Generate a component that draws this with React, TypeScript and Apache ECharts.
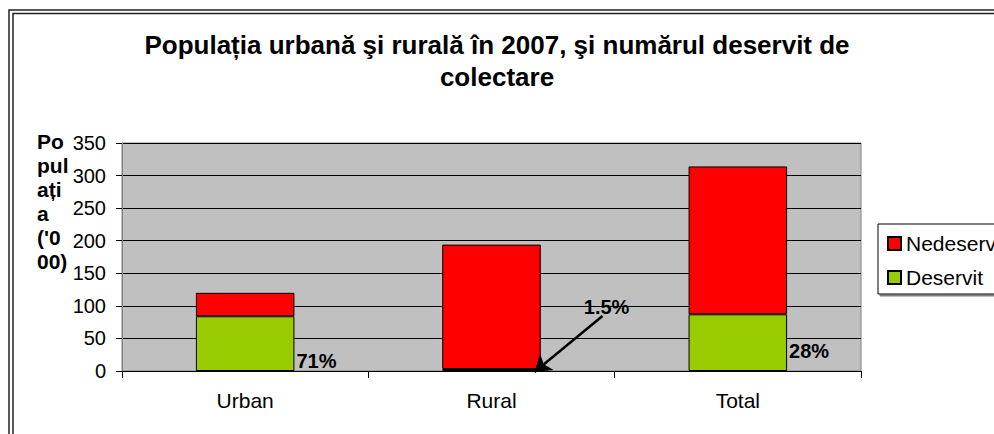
import React, { useEffect, useRef } from "react";
import * as echarts from "echarts";

const categories = ["Urban", "Rural", "Total"];
const deservit = [84, 3, 87];
const nedeservit = [36, 191, 227];
const pctLabels = ["71%", "1.5%", "28%"];
const yTicks = { min: 0, max: 350, interval: 50 };

const FONT = "Arial, 'Liberation Sans', sans-serif";

export default function App() {
  const ref = useRef<HTMLDivElement>(null);
  useEffect(() => {
    if (!ref.current) return;
    const chart = echarts.init(ref.current, null, { renderer: "svg" });
    const labelOffsets = [
      [2, -10],
      [43, -64],
      [2, -20],
    ];
    const option: any = {
      animation: false,
      backgroundColor: "#ffffff",
      textStyle: { fontFamily: FONT, color: "#000" },
      title: {
        text: "Populația urbană şi rurală în 2007, şi numărul deservit de\ncolectare",
        left: "center",
        top: 29,
        padding: [0, 0, 0, 14],
        textStyle: {
          fontFamily: FONT,
          fontWeight: "bold",
          fontSize: 26,
          lineHeight: 32,
          color: "#000",
        },
      },
      graphic: [
        {
          type: "rect",
          silent: true,
          shape: { x: 9, y: 10, width: 1100, height: 600 },
          style: { fill: "none", stroke: "#222", lineWidth: 1.5 },
        },
        {
          type: "rect",
          silent: true,
          shape: { x: 13, y: 13.5, width: 1100, height: 600 },
          style: { fill: "none", stroke: "#222", lineWidth: 1.5 },
        },
        {
          type: "text",
          left: 37,
          top: 129,
          style: {
            text: "Po\npul\nați\na\n('0\n00)",
            font: `bold 21px ${FONT}`,
            lineHeight: 24,
            fill: "#000",
          },
        },
      ],
      legend: {
        orient: "vertical",
        left: 878,
        top: 224,
        data: ["Nedeservit", "Deservit"],
        icon: "rect",
        itemWidth: 13,
        itemHeight: 13,
        itemGap: 13,
        padding: [9, 10, 6, 9],
        backgroundColor: "#fff",
        borderColor: "#000",
        borderWidth: 1,
        shadowColor: "#808080",
        shadowOffsetX: 2,
        shadowOffsetY: 2,
        shadowBlur: 0,
        textStyle: { fontFamily: FONT, fontSize: 21, color: "#000" },
      },
      grid: {
        left: 122,
        top: 143,
        right: 133,
        bottom: 63,
        show: true,
        backgroundColor: "#C0C0C0",
        borderColor: "#808080",
        borderWidth: 1,
      },
      xAxis: {
        type: "category",
        data: categories,
        axisLine: { lineStyle: { color: "#000", width: 1 } },
        axisTick: { show: true, length: 7, lineStyle: { color: "#000" } },
        axisLabel: { fontFamily: FONT, fontSize: 21, color: "#000", margin: 19 },
      },
      yAxis: {
        type: "value",
        min: yTicks.min,
        max: yTicks.max,
        interval: yTicks.interval,
        axisLine: { show: true, lineStyle: { color: "#808080" } },
        axisTick: { show: true, length: 6, lineStyle: { color: "#000" } },
        axisLabel: { fontFamily: FONT, fontSize: 20, color: "#000", margin: 16 },
        splitLine: { show: true, lineStyle: { color: "#000", width: 1 } },
      },
      series: [
        {
          id: "deservit",
          name: "Deservit",
          type: "bar",
          stack: "pop",
          barWidth: "40%",
          itemStyle: { color: "#99CC00", borderColor: "#000", borderWidth: 1 },
          data: deservit.map((v, i) => ({
            value: v,
            label: {
              show: true,
              position: ["100%", "100%"],
              align: "left",
              verticalAlign: "middle",
              offset: labelOffsets[i],
              formatter: pctLabels[i],
              fontFamily: FONT,
              fontWeight: "bold",
              fontSize: 20,
              color: "#000",
            },
          })),
        },
        {
          id: "nedeservit",
          name: "Nedeservit",
          type: "bar",
          stack: "pop",
          barWidth: "40%",
          itemStyle: { color: "#FF0000", borderColor: "#000", borderWidth: 1 },
          data: nedeservit,
        },
      ],
    };
    chart.setOption(option);
    const base = chart.convertToPixel({ seriesIndex: 0 }, [categories[1], 0]) as number[];
    if (base && isFinite(base[0])) {
      const tip = [base[0] + 43, base[1] + 1];
      const tail = [base[0] + 111, base[1] - 55];
      chart.setOption({
        series: [
          {
            id: "deservit",
            markLine: {
              silent: true,
              animation: false,
              symbol: ["none", "arrow"],
              symbolSize: 16,
              label: { show: false },
              lineStyle: { color: "#000", width: 2.5, type: "solid" },
              emphasis: { disabled: true },
              data: [[{ x: tail[0], y: tail[1] }, { x: tip[0], y: tip[1] }]],
            },
          },
        ],
      });
    }
    return () => chart.dispose();
  }, []);
  return (
    <div
      ref={ref}
      style={{ position: "absolute", left: 0, top: 0, width: 994, height: 434 }}
    />
  );
}
